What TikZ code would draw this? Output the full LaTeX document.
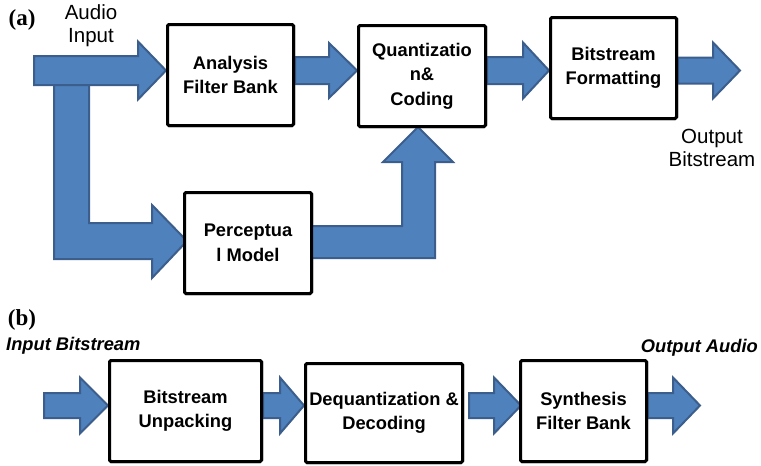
\documentclass[tikz,border=0pt]{standalone}
\usepackage{fontspec}
\setmainfont{Liberation Sans}
\newfontfamily\labfont{Liberation Serif}
\usetikzlibrary{calc}
\definecolor{arrfill}{HTML}{4F81BD}
\definecolor{arrline}{HTML}{3B5E8C}
\tikzset{
  barrow/.style={fill=arrfill, draw=arrline, line width=2pt, line join=miter},
  blk/.style={draw=black, fill=white, line width=3pt, rounded corners=1.5pt,
    align=center, inner sep=0pt, font=\bfseries\fontsize{18.3}{24.5}\selectfont},
  panel/.style={font=\labfont\bfseries\fontsize{23}{23}\selectfont, inner sep=0pt},
  plain/.style={align=center, font=\fontsize{20.5}{23}\selectfont},
  ital/.style={inner sep=0pt, font=\bfseries\itshape\fontsize{18.3}{18}\selectfont},
}
% block arrow: tail point (x used), tip point, body half, head half, head length
\newcommand{\harrow}[5]{\draw[barrow] let \p1=#1, \p2=#2 in
  (\x1,\y2+#3) -- (\x2-#5,\y2+#3) -- (\x2-#5,\y2+#4) -- (\x2,\y2) --
  (\x2-#5,\y2-#4) -- (\x2-#5,\y2-#3) -- (\x1,\y2-#3) -- cycle;}
\begin{document}
\begin{tikzpicture}[x=1pt,y=-1pt]
\useasboundingbox (0,0) rectangle (761,466);

% boxes (placed first for anchors, drawn again on top later)
\path
  node[blk, minimum width=126, minimum height=101] (afb) at (230.5,75) {}
  node[blk, minimum width=127, minimum height=101] (qc)  at (422,76) {}
  node[blk, minimum width=126, minimum height=101] (bf)  at (613.5,68) {}
  node[blk, minimum width=127, minimum height=101] (pm)  at (248,243) {}
  node[blk, minimum width=152, minimum height=101] (bu)  at (185.5,411) {}
  node[blk, minimum width=157, minimum height=99]  (dd)  at (384,413) {}
  node[blk, minimum width=126, minimum height=101] (sfb) at (583.5,411) {};

\coordinate (rowa) at (0,70.5);
\coordinate (rowb) at (0,405.5);
\coordinate (ain) at (34,70.5);
\coordinate (aout) at (740,70.5);
\coordinate (bin) at (44,405.5);
\coordinate (bout) at (700,405.5);
\coordinate (pmtip) at (187,241);
\coordinate (qctip) at (418,127);

% branch to perceptual model (behind the input arrow)
\draw[barrow] (54,84) -- (54,259) -- (152,259) -- (152,278) -- (pmtip)
  -- (152,205) -- (152,223) -- (89,223) -- (89,84) -- cycle;

% row (a)
\harrow{(ain)}{(afb.west |- rowa)}{14.5pt}{29pt}{28pt}
\harrow{(afb.east)}{(qc.west |- rowa)}{13.5pt}{27.5pt}{28pt}
\harrow{(qc.east)}{(bf.west |- rowa)}{13.5pt}{28pt}{26pt}
\harrow{(bf.east)}{(aout)}{13pt}{28pt}{27pt}

% perceptual model to quantization
\draw[barrow] (310,226) -- (402,226) -- (402,162) -- (383,162) -- (qctip)
  -- (453,162) -- (435,162) -- (435,258) -- (310,258) -- cycle;

% row (b)
\harrow{(bin)}{(bu.west |- rowb)}{12.5pt}{28pt}{28pt}
\harrow{(bu.east)}{(dd.west |- rowb)}{12.5pt}{28pt}{24pt}
\harrow{([xshift=5pt]dd.east)}{([xshift=2pt]sfb.west |- rowb)}{12.5pt}{28pt}{27pt}
\harrow{(sfb.east)}{(bout)}{12.5pt}{28pt}{27pt}

% boxes with text on top
\node[blk, minimum width=126, minimum height=101] at (afb) {Analysis\\Filter Bank};
\node[blk, minimum width=127, minimum height=101] at (qc) {Quantizatio\\n\&\\Coding};
\node[blk, minimum width=126, minimum height=101] at (bf) {Bitstream\\Formatting};
\node[blk, minimum width=127, minimum height=101] at (pm) {Perceptua\\l Model};
\node[blk, minimum width=152, minimum height=101] at (bu) {Bitstream\\Unpacking};
\node[blk, minimum width=157, minimum height=99] at (dd) {Dequantization \&\\Decoding};
\node[blk, minimum width=126, minimum height=101] at (sfb) {Synthesis\\Filter Bank};

% labels
\node[panel] (la) at (22,20) {(a)};
\node[panel] (lb) at (22,320) {(b)};
\node[plain] (tain) at (91,26) {Audio\\Input};
\node[plain] (taout) at (712,148) {Output\\Bitstream};
\node[ital, anchor=west] (tbin) at (6,346) {Input Bitstream};
\node[ital, anchor=east] (tbout) at (758,348) {Output Audio};
\end{tikzpicture}
\end{document}
